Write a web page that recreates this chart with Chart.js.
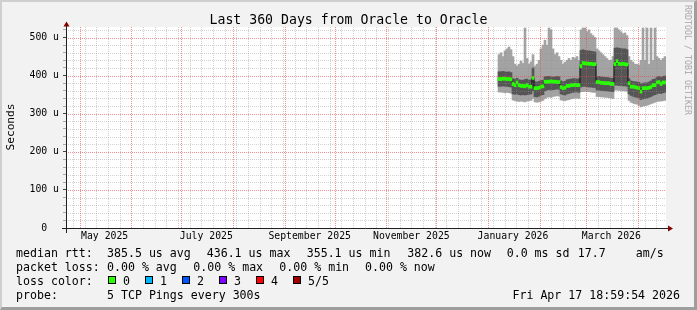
<!DOCTYPE html>
<html>
<head>
<meta charset="utf-8">
<script src="https://cdn.jsdelivr.net/npm/chart.js@4/dist/chart.umd.min.js"></script>
<style>
html, body { margin: 0; padding: 0; }
body {
    width: 697px; height: 310px; overflow: hidden; position: relative;
    background: #f2f2f2;
    font-family: "DejaVu Sans Mono", monospace;
}
#frame {
    position: absolute; left: 0; top: 0; width: 697px; height: 310px; box-sizing: border-box;
    border-style: solid; border-width: 2px 3px 3px 2px;
    border-color: #cfcfcf #9e9e9e #9e9e9e #cfcfcf;
}
#chart { position: absolute; left: 0; top: 0; }
.t { position: absolute; white-space: pre; line-height: 1; color: #000; }
.lg { font-size: 11.6px; }
.box { position: absolute; width: 8px; height: 8px; box-sizing: border-box; border: 1px solid #000; top: 276px; }
</style>
</head>
<body>
<div id="frame"></div>
<canvas id="chart" width="697" height="310"></canvas>

<div class="t" style="left:0; width:697px; text-align:center; top:12.8px; font-size:13.2px;">Last 360 Days from Oracle to Oracle</div>
<div class="t" style="left:-19px; top:121px; width:60px; height:12px; line-height:12px; text-align:center; font-size:11.2px; transform:rotate(-90deg);">Seconds</div>
<div class="t" style="left:628px; top:55px; width:120px; height:10px; line-height:10px; text-align:center; font-size:8.3px; color:#a8a8a8; transform:rotate(90deg);">RRDTOOL / TOBI OETIKER</div>

<!-- legend rows -->
<div class="t lg" style="left:16px; top:248.2px;">median rtt:</div>
<div class="t lg" style="left:107px; top:248.2px;">385.5 us avg</div>
<div class="t lg" style="left:206.7px; top:248.2px;">436.1 us max</div>
<div class="t lg" style="left:306.7px; top:248.2px;">355.1 us min</div>
<div class="t lg" style="left:407.3px; top:248.2px;">382.6 us now</div>
<div class="t lg" style="left:506.7px; top:248.2px;">0.0 ms sd</div>
<div class="t lg" style="left:577.7px; top:248.2px;">17.7</div>
<div class="t lg" style="left:635.7px; top:248.2px;">am/s</div>

<div class="t lg" style="left:16px; top:262.2px;">packet loss:</div>
<div class="t lg" style="left:107px; top:262.2px;">0.00 % avg</div>
<div class="t lg" style="left:193.3px; top:262.2px;">0.00 % max</div>
<div class="t lg" style="left:279.3px; top:262.2px;">0.00 % min</div>
<div class="t lg" style="left:365px; top:262.2px;">0.00 % now</div>

<div class="t lg" style="left:16px; top:276.2px;">loss color:</div>
<div id="lossLegend"></div>

<div class="t lg" style="left:16px; top:290.2px;">probe:</div>
<div class="t lg" style="left:107px; top:290.2px;">5 TCP Pings every 300s</div>
<div class="t lg" style="right:17px; top:290.2px;">Fri Apr 17 18:59:54 2026</div>

<script>
// time axis: days since the start of the 360 day window (Apr 22 2025 19:00)
const firstBinDay = 259.2;
const binDays = 1.2;

// smoke: min ping, lower inner ping, median, upper inner ping, max ping (microseconds)
const rttMin = [357,357,356,355,356,355,354,336,334,333,332,333,332,331,333,334,335,340,331,330,331,333,335,340,343,344,343,345,346,347,346,336,335,334,336,337,339,340,341,341,340,358,358,359,358,358,357,356,356,345,345,344,344,343,343,342,341,340,362,362,361,361,360,360,359,335,330,328,326,325,322,318,320,321,322,324,326,328,330,332,333,333,334,335];
const rttLo  = [372,372,373,372,372,371,370,352,351,352,350,349,350,349,350,351,352,360,345,344,346,349,350,360,362,363,362,363,364,365,364,352,350,349,352,353,355,356,357,357,356,370,372,372,371,370,370,369,369,362,362,361,361,360,360,359,358,358,375,375,374,374,373,373,372,352,348,346,344,343,341,337,339,340,341,343,345,348,350,352,354,353,355,356];
const rttMed = [391,391,392,392,391,391,390,378,375,382,375,373,373,372,375,371,371,394,367,367,368,371,372,384,384,384,385,384,384,383,383,370,367,368,373,373,375,375,376,375,375,425,433,432,432,431,431,430,430,383,383,381,381,380,380,380,378,378,430,438,431,430,431,430,429,380,371,371,370,368,367,358,367,367,367,368,370,375,375,382,383,378,382,382];
const rttHi  = [410,410,411,410,409,410,408,392,390,393,389,388,388,390,391,388,389,420,384,383,385,387,388,397,398,398,397,396,397,398,397,386,384,385,389,390,391,392,392,391,392,466,468,466,465,465,464,463,462,397,398,396,396,395,395,394,393,393,472,473,472,471,470,470,468,392,386,385,384,383,382,378,380,381,381,383,386,390,391,396,398,395,398,399];
const rttMax = [455,460,450,465,470,475,468,450,430,425,430,438,432,525,445,430,436,455,425,430,440,470,480,493,480,525,520,470,455,460,450,440,430,435,440,445,440,448,445,450,440,520,525,525,515,520,510,505,500,470,465,460,455,450,445,440,440,450,525,525,520,515,510,512,505,450,440,435,430,430,428,440,525,440,525,430,525,440,525,450,445,440,445,450];

// x axis: month boundaries, label positions and texts
const monthStarts = [8.2, 39.2, 69.2, 100.2, 131.2, 161.2, 192.2, 222.2, 253.2, 284.2, 312.2, 343.2];
const monthLabelDays = [23.2, 84.2, 146.2, 207.2, 268.2, 327.2];
const monthLabels = ['May 2025', 'July 2025', 'September 2025', 'November 2025', 'January 2026', 'March 2026'];
const firstSunday = 4.2;

// y axis
const yTickStep = 20;
const yMajorStep = 100;
const yMaxTick = 520;

// loss colour legend
const lossLabels = ['0', '1', '2', '3', '4', '5/5'];
const lossColors = ['#26ff00', '#00b8ff', '#0059ff', '#7e00ff', '#ff0000', '#a00000'];
const lossBoxX = [108, 145, 182, 219, 256, 293];

// build loss legend
const lossDiv = document.getElementById('lossLegend');
lossLabels.forEach((lbl, i) => {
    const b = document.createElement('div');
    b.className = 'box';
    b.style.left = lossBoxX[i] + 'px';
    b.style.background = lossColors[i];
    lossDiv.appendChild(b);
    const t = document.createElement('div');
    t.className = 't lg';
    t.style.left = (lossBoxX[i] + 15) + 'px';
    t.style.top = '276.2px';
    t.textContent = lbl;
    lossDiv.appendChild(t);
});

const binX = rttMed.map((_, i) => firstBinDay + binDays * (i + 0.5));

const key = v => Math.round(v * 10);
const labelMap = {};
monthLabelDays.forEach((d, i) => { labelMap[key(d)] = monthLabels[i]; });

// grid positions
const weekDays = [];
for (let d = firstSunday; d <= 360; d += 7) weekDays.push(d);
const yMinor = [];
for (let v = yTickStep; v <= yMaxTick; v += yTickStep) if (v % yMajorStep !== 0) yMinor.push(v);
const yMajor = [];
for (let v = yMajorStep; v <= yMaxTick; v += yMajorStep) yMajor.push(v);
const yTicks = [];
for (let v = 0; v <= yMaxTick; v += yTickStep) yTicks.push({ value: v });

const GRID_MINOR = 'rgba(143,143,143,0.4)';
const GRID_MAJOR = 'rgba(230,70,70,0.6)';

const plotBg = {
    id: 'plotBg',
    beforeDraw(chart) {
        const a = chart.chartArea, c = chart.ctx;
        c.save();
        c.fillStyle = '#ffffff';
        c.fillRect(a.left, a.top, a.right - a.left, a.bottom - a.top);
        c.restore();
    }
};

// rrdtool style dotted grid, drawn over the smoke
const dottedGrid = {
    id: 'dottedGrid',
    afterDatasetsDraw(chart) {
        const a = chart.chartArea, c = chart.ctx;
        const xs = chart.scales.x, ys = chart.scales.y;
        const vline = d => { const p = Math.round(xs.getPixelForValue(d)) + 0.5; c.moveTo(p, a.top); c.lineTo(p, a.bottom); };
        const hline = v => { const p = Math.round(ys.getPixelForValue(v)) + 0.5; c.moveTo(a.left, p); c.lineTo(a.right, p); };
        c.save();
        c.lineWidth = 1;
        c.setLineDash([1, 1]);
        c.strokeStyle = GRID_MINOR;
        c.beginPath();
        weekDays.filter(d => !monthStarts.some(m => key(m) === key(d))).forEach(vline);
        yMinor.forEach(hline);
        c.stroke();
        c.strokeStyle = GRID_MAJOR;
        c.beginPath();
        monthStarts.forEach(vline);
        yMajor.forEach(hline);
        c.stroke();
        c.restore();
    }
};

const axesArrows = {
    id: 'axesArrows',
    afterDraw(chart) {
        const a = chart.chartArea, c = chart.ctx;
        c.save();
        c.strokeStyle = '#212121';
        c.lineWidth = 1;
        c.beginPath();
        c.moveTo(a.left + 0.5, a.bottom + 5);
        c.lineTo(a.left + 0.5, a.top - 3);
        c.moveTo(a.left - 4, a.bottom + 0.5);
        c.lineTo(a.right + 3, a.bottom + 0.5);
        c.stroke();
        c.fillStyle = '#800000';
        c.beginPath();
        c.moveTo(a.left - 2.5, a.top - 0.5);
        c.lineTo(a.left + 3.5, a.top - 0.5);
        c.lineTo(a.left + 0.5, a.top - 5.5);
        c.closePath();
        c.fill();
        c.beginPath();
        c.moveTo(a.right + 2, a.bottom - 2.5);
        c.lineTo(a.right + 2, a.bottom + 3.5);
        c.lineTo(a.right + 7, a.bottom + 0.5);
        c.closePath();
        c.fill();
        c.restore();
    }
};

const tickFont = { family: 'DejaVu Sans Mono', size: 9.8 };

new Chart(document.getElementById('chart'), {
    type: 'bar',
    data: {
        datasets: [
            {
                label: 'median',
                type: 'line',
                data: binX.map((x, i) => ({ x: x, y: rttMed[i] })),
                stepped: 'middle',
                borderColor: '#111111',
                borderWidth: 1,
                pointRadius: 0,
                order: 2
            },
            {
                label: 'loss 0',
                data: binX.map((x, i) => ({ x: x, y: [rttMed[i] - 4, rttMed[i] + 4] })),
                backgroundColor: '#26ff00',
                barThickness: 2,
                grouped: false,
                order: 1
            },
            {
                label: 'inner',
                data: binX.map((x, i) => ({ x: x, y: [rttLo[i], rttHi[i]] })),
                backgroundColor: '#555555',
                barThickness: 2,
                grouped: false,
                order: 3
            },
            {
                label: 'outer',
                data: binX.map((x, i) => ({ x: x, y: [rttMin[i], rttMax[i]] })),
                backgroundColor: '#a3a3a3',
                barThickness: 2,
                grouped: false,
                order: 4
            }
        ]
    },
    options: {
        responsive: false,
        animation: false,
        devicePixelRatio: 1,
        layout: { padding: { left: 0, top: 27, right: 31, bottom: 0 } },
        plugins: { legend: { display: false }, tooltip: { enabled: false }, title: { display: false } },
        scales: {
            x: {
                type: 'linear',
                min: 0,
                max: 360,
                offset: false,
                afterFit(s) { s.height = 82; },
                afterBuildTicks(s) { s.ticks = monthLabelDays.map(d => ({ value: d })); },
                border: { display: false },
                grid: { display: false, drawTicks: false, offset: false },
                ticks: {
                    autoSkip: false,
                    maxRotation: 0,
                    minRotation: 0,
                    padding: 3,
                    color: '#000',
                    font: tickFont,
                    callback(v) { const l = labelMap[key(v)]; return l === undefined ? '' : l; }
                }
            },
            y: {
                type: 'linear',
                min: 0,
                max: 527.6,
                afterFit(s) { s.width = 66; },
                afterBuildTicks(s) { s.ticks = yTicks.map(t => ({ value: t.value })); },
                border: { display: false },
                grid: {
                    drawOnChartArea: false,
                    tickLength: 3,
                    tickColor(ctx) {
                        if (!ctx.tick) return '#aaa';
                        return ctx.tick.value % yMajorStep === 0 ? '#444' : '#aaa';
                    }
                },
                ticks: {
                    autoSkip: false,
                    padding: 4,
                    color: '#000',
                    font: tickFont,
                    callback(v) {
                        if (v % yMajorStep !== 0) return '';
                        return v === 0 ? '0  ' : v + ' u';
                    }
                }
            }
        }
    },
    plugins: [plotBg, dottedGrid, axesArrows]
});
</script>
</body>
</html>
